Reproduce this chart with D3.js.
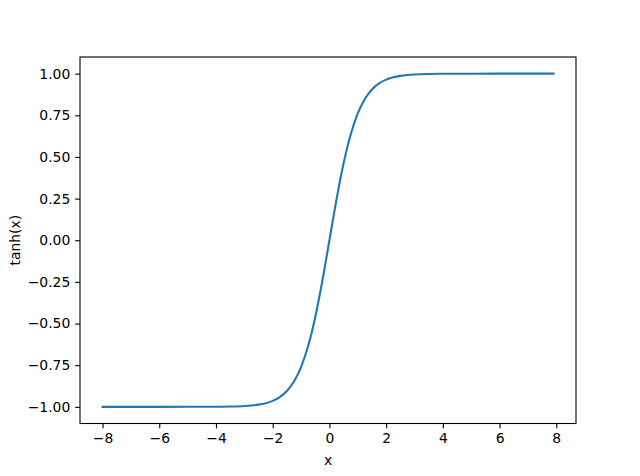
<!DOCTYPE html>
<html>
<head>
<meta charset="utf-8">
<script src="https://cdn.jsdelivr.net/npm/d3@7"></script>
<style>
  html, body { margin: 0; padding: 0; background: #fff; }
  svg { display: block; font-family: "DejaVu Sans", sans-serif; }
</style>
</head>
<body>
<svg id="chart" width="640" height="476"></svg>
<script>
// Values
const xValues = [-8, -7, -6, -5, -4.5, -4, -3.5, -3, -2.75, -2.5, -2.25, -2, -1.75, -1.5, -1.25, -1, -0.75, -0.5, -0.25, 0,
                 0.25, 0.5, 0.75, 1, 1.25, 1.5, 1.75, 2, 2.25, 2.5, 2.75, 3, 3.5, 4, 4.5, 5, 6, 7, 7.9];
const yValues = [-1.0000, -1.0000, -1.0000, -0.9999, -0.9998, -0.9993, -0.9982, -0.9951, -0.9919, -0.9866, -0.9780, -0.9640, -0.9414, -0.9051, -0.8483, -0.7616, -0.6351, -0.4621, -0.2449, 0,
                 0.2449, 0.4621, 0.6351, 0.7616, 0.8483, 0.9051, 0.9414, 0.9640, 0.9780, 0.9866, 0.9919, 0.9951, 0.9982, 0.9993, 0.9998, 0.9999, 1.0000, 1.0000, 1.0000];
const xTicks = [-8, -6, -4, -2, 0, 2, 4, 6, 8];
const yTicks = [-1.00, -0.75, -0.50, -0.25, 0.00, 0.25, 0.50, 0.75, 1.00];
const xLabel = "x";
const yLabel = "tanh(x)";

(function () {
const svg = d3.select("#chart");
const mLeft = 80, mRight = 576, mTop = 57, mBottom = 423.5;
const fs = 13.9;

const xPad = (7.9 - (-8)) * 0.05;
const x = d3.scaleLinear().domain([-8 - xPad, 7.9 + xPad]).range([mLeft, mRight]);
const y = d3.scaleLinear().domain([-1.1, 1.1]).range([mBottom, mTop]);

const minus = s => s.replace("-", "\u2212");

const data = xValues.map((v, i) => [v, yValues[i]]);
const line = d3.line().x(d => x(d[0])).y(d => y(d[1])).curve(d3.curveMonotoneX);

svg.append("path").datum(data)
  .attr("d", line)
  .attr("fill", "none")
  .attr("stroke", "#1f77b4")
  .attr("stroke-width", 2.08)
  .attr("stroke-linecap", "square");

const xAxis = d3.axisBottom(x).tickValues(xTicks).tickSize(4.86).tickPadding(4.86)
  .tickFormat(d => minus(d3.format("d")(d)));
const gx = svg.append("g").attr("transform", `translate(0,${mBottom})`).call(xAxis);

const yAxis = d3.axisLeft(y).tickValues(yTicks).tickSize(4.86).tickPadding(4.86)
  .tickFormat(d => minus(d3.format(".2f")(d)));
const gy = svg.append("g").attr("transform", `translate(${mLeft},0)`).call(yAxis);

[gx, gy].forEach(g => {
  g.select(".domain").remove();
  g.selectAll(".tick line").attr("stroke", "#000").attr("stroke-width", 1.11);
  g.selectAll(".tick text").attr("fill", "#000").attr("font-size", fs)
    .attr("font-family", "DejaVu Sans, sans-serif");
});

svg.append("rect")
  .attr("x", mLeft).attr("y", mTop)
  .attr("width", mRight - mLeft).attr("height", mBottom - mTop)
  .attr("fill", "none").attr("stroke", "#000").attr("stroke-width", 1.11);

svg.append("text")
  .attr("x", (mLeft + mRight) / 2).attr("y", 465)
  .attr("text-anchor", "middle").attr("font-size", fs).attr("fill", "#000")
  .text(xLabel);

svg.append("text")
  .attr("transform", `translate(20,${(mTop + mBottom) / 2}) rotate(-90)`)
  .attr("text-anchor", "middle").attr("font-size", fs).attr("fill", "#000")
  .text(yLabel);
})();
</script>
</body>
</html>
